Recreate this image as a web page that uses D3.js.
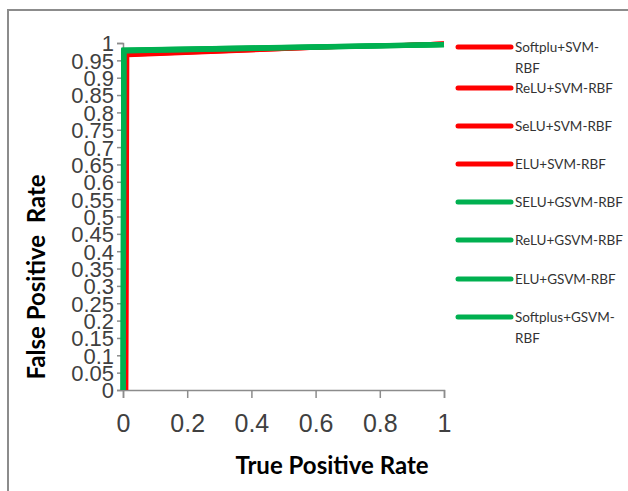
<!DOCTYPE html>
<html lang="en">
<meta charset="UTF-8">
<style>
  body { margin: 0; background: #fff; }
  svg { display: block; font-family: "Lato", "Open Sans", sans-serif; }
</style>
<script src="https://cdn.jsdelivr.net/npm/d3@7"></script>
<body>
<div id="chart"></div>
<script>
// series names, colours and ROC points
var seriesNames = ["Softplu+SVM-RBF", "ReLU+SVM-RBF", "SeLU+SVM-RBF", "ELU+SVM-RBF",
                   "SELU+GSVM-RBF", "ReLU+GSVM-RBF", "ELU+GSVM-RBF", "Softplus+GSVM-RBF"];
var legendLines = [["Softplu+SVM-", "RBF"], ["ReLU+SVM-RBF"], ["SeLU+SVM-RBF"], ["ELU+SVM-RBF"],
                   ["SELU+GSVM-RBF"], ["ReLU+GSVM-RBF"], ["ELU+GSVM-RBF"], ["Softplus+GSVM-", "RBF"]];
var seriesColors = ["#ff0000", "#ff0000", "#ff0000", "#ff0000", "#00b050", "#00b050", "#00b050", "#00b050"];
var seriesX = [
  [0.012, 0.015, 1],
  [0.010, 0.013, 1],
  [0.011, 0.014, 1],
  [0.009, 0.012, 1],
  [0.0, 0.002, 1],
  [0.001, 0.003, 1],
  [0.0, 0.002, 1],
  [0.001, 0.003, 1]
];
var seriesY = [
  [0, 0.963, 1],
  [0, 0.966, 1],
  [0, 0.965, 0.998],
  [0, 0.967, 1],
  [0, 0.977, 0.995],
  [0, 0.979, 0.996],
  [0, 0.978, 0.995],
  [0, 0.980, 0.996]
];
var xTicks = [0, 0.2, 0.4, 0.6, 0.8, 1];
var yTicks = d3.range(0, 21).map(function(i) { return i * 0.05; });

var W = 628, H = 491;
var svg = d3.select("#chart").append("svg").attr("width", W).attr("height", H);

// outer frame
svg.append("rect").attr("x", 8).attr("y", 10).attr("width", 700).attr("height", 600)
  .attr("fill", "none").attr("stroke", "#8c8c8c").attr("stroke-width", 2);

var x = d3.scaleLinear().domain([0, 1]).range([123, 444]);
var y = d3.scaleLinear().domain([0, 1]).range([390, 43]);

// y axis
var yAxis = svg.append("g").attr("transform", "translate(123,0)")
  .call(d3.axisLeft(y).tickValues(yTicks).tickSize(6).tickPadding(3)
    .tickFormat(function(d) { return +d.toFixed(2) + ""; }));
yAxis.selectAll("text").style("font-size", "22px").attr("fill", "#404040").attr("dy", "0.36em");

// x axis
var xAxis = svg.append("g").attr("transform", "translate(0,390)")
  .call(d3.axisBottom(x).tickValues(xTicks).tickSize(8).tickPadding(16)
    .tickFormat(function(d) { return d + ""; }));
xAxis.selectAll("text").style("font-size", "25px").attr("fill", "#404040");

svg.selectAll(".domain, .tick line").attr("stroke", "#8c8c8c").attr("stroke-width", 1.5);

// curves
var line = d3.line().x(function(d) { return x(d[0]); }).y(function(d) { return y(d[1]); });
seriesNames.forEach(function(name, i) {
  var pts = seriesX[i].map(function(v, j) { return [v, seriesY[i][j]]; });
  svg.append("path").datum(pts).attr("d", line)
    .attr("fill", "none").attr("stroke", seriesColors[i])
    .attr("stroke-width", i < 4 ? 3 : 5).attr("stroke-linejoin", "miter");
});

// legend
var legendY = [47, 88, 126, 164, 202, 240, 279, 317];
seriesNames.forEach(function(name, i) {
  var ly = legendY[i];
  svg.append("line").attr("x1", 458).attr("x2", 511).attr("y1", ly).attr("y2", ly)
    .attr("stroke", seriesColors[i]).attr("stroke-width", 5).attr("stroke-linecap", "round");
  var t = svg.append("text").attr("x", 515).attr("y", ly + 5)
    .style("font-size", "13.5px").attr("fill", "#333");
  legendLines[i].forEach(function(s, k) {
    t.append("tspan").attr("x", 515).attr("dy", k === 0 ? 0 : 21).text(s);
  });
});

// axis titles
svg.append("text").attr("x", 332).attr("y", 474).attr("text-anchor", "middle")
  .style("font-size", "24px").style("font-weight", "bold").attr("fill", "#000")
  .text("True Positive Rate");
svg.append("text").attr("transform", "translate(45,277) rotate(-90)").attr("text-anchor", "middle")
  .style("font-size", "24px").style("font-weight", "bold").attr("fill", "#000")
  .style("white-space", "pre").text("False Positive  Rate");
</script>
</body>
</html>
